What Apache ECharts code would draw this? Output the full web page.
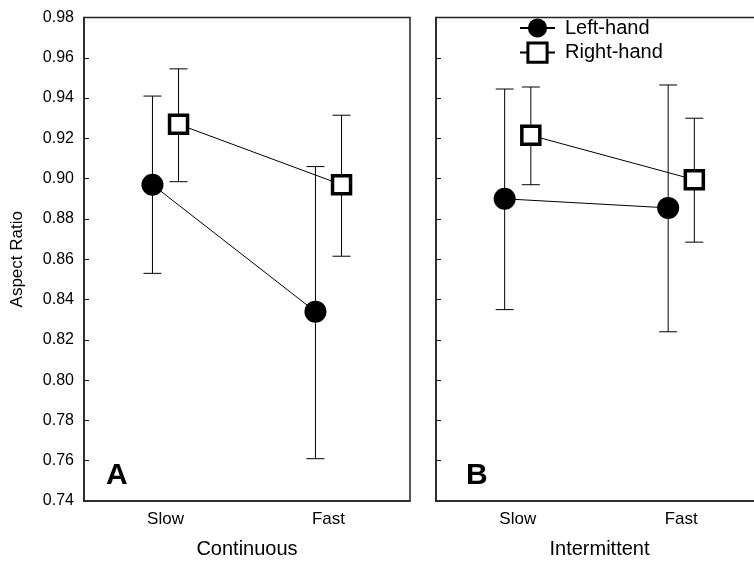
<!DOCTYPE html>
<html>
<head>
<meta charset="utf-8">
<script src="https://cdn.jsdelivr.net/npm/echarts@6/dist/echarts.min.js"></script>
<style>
  html, body { margin: 0; padding: 0; background: #fff; overflow: hidden; width: 754px; height: 564px; }
  #chart { width: 770px; height: 564px; }
</style>
</head>
<body>
<div id="chart"></div>
<script>
// ---- data ----
const categories = ['Slow', 'Fast'];
const panelNames = ['Continuous', 'Intermittent'];
const panelLetters = ['A', 'B'];
const seriesNames = ['Left-hand', 'Right-hand'];
const yTicks = [0.74, 0.76, 0.78, 0.80, 0.82, 0.84, 0.86, 0.88, 0.90, 0.92, 0.94, 0.96, 0.98];

// Continuous
const leftContMean = [0.897, 0.834];
const leftContLow  = [0.853, 0.761];
const leftContHigh = [0.941, 0.906];
const rightContMean = [0.927, 0.897];
const rightContLow  = [0.8985, 0.8615];
const rightContHigh = [0.9545, 0.9315];
// Intermittent
const leftIntMean = [0.890, 0.8855];
const leftIntLow  = [0.835, 0.824];
const leftIntHigh = [0.9445, 0.9465];
const rightIntMean = [0.9215, 0.8995];
const rightIntLow  = [0.897, 0.8685];
const rightIntHigh = [0.9455, 0.930];

// ---- styling / layout ----
const FONT = "'Liberation Sans', Arial, sans-serif";
const AX = '#222';
const OFFSET = 0.08; // horizontal dodge in category units
const grids = [
  { left: 84, top: 17.5, width: 326, height: 489.5 },
  { left: 436, top: 17.5, width: 327, height: 489.5 }
];

const chart = echarts.init(document.getElementById('chart'));

function pts(mean, dodge) {
  return mean.map((v, i) => [i + dodge, v]);
}
function errs(lo, hi, dodge) {
  return lo.map((v, i) => [i + dodge, v, hi[i]]);
}
function errRender(params, api) {
  const x = api.value(0), lo = api.value(1), hi = api.value(2);
  const a = api.coord([x, lo]);
  const b = api.coord([x, hi]);
  const hw = 9;
  const st = { stroke: '#000', lineWidth: 1 };
  return {
    type: 'group',
    children: [
      { type: 'line', shape: { x1: a[0], y1: a[1], x2: b[0], y2: b[1] }, style: st },
      { type: 'line', shape: { x1: a[0] - hw, y1: a[1], x2: a[0] + hw, y2: a[1] }, style: st },
      { type: 'line', shape: { x1: b[0] - hw, y1: b[1], x2: b[0] + hw, y2: b[1] }, style: st }
    ]
  };
}

const panelData = [
  { lm: leftContMean, ll: leftContLow, lh: leftContHigh, rm: rightContMean, rl: rightContLow, rh: rightContHigh },
  { lm: leftIntMean, ll: leftIntLow, lh: leftIntHigh, rm: rightIntMean, rl: rightIntLow, rh: rightIntHigh }
];

const xAxes = [], yAxes = [], series = [];
panelData.forEach((p, k) => {
  xAxes.push({
    type: 'category', gridIndex: k, data: categories, boundaryGap: true,
    axisLine: { onZero: false, lineStyle: { color: AX, width: 1.5 } },
    axisTick: { inside: true, length: 5, alignWithLabel: true, lineStyle: { color: AX, width: 1 } },
    axisLabel: { color: '#000', fontSize: 17, fontFamily: FONT, margin: 10 },
    name: panelNames[k], nameLocation: 'middle', nameGap: 38,
    nameTextStyle: { color: '#000', fontSize: 20, fontFamily: FONT }
  });
  yAxes.push({
    type: 'value', gridIndex: k, min: 0.74, max: 0.98, interval: 0.02,
    axisLine: { show: true, onZero: false, lineStyle: { color: AX, width: 1.5 } },
    axisTick: { show: true, inside: true, length: 5, lineStyle: { color: AX, width: 1 } },
    splitLine: { show: false },
    axisLabel: {
      show: k === 0, color: '#000', fontSize: 16, fontFamily: FONT, margin: 10,
      formatter: v => v.toFixed(2)
    },
    name: k === 0 ? 'Aspect Ratio' : '', nameLocation: 'middle', nameGap: 58,
    nameTextStyle: { color: '#000', fontSize: 17, fontFamily: FONT }
  });
});
// hidden value axes for dodged positions
panelData.forEach((p, k) => {
  xAxes.push({ type: 'value', gridIndex: k, min: -0.5, max: 1.5, show: false, axisLine: { onZero: false } });
});

panelData.forEach((p, k) => {
  const xi = 2 + k;
  series.push({
    type: 'custom', xAxisIndex: xi, yAxisIndex: k, renderItem: errRender,
    encode: { x: 0, y: [1, 2] }, data: errs(p.ll, p.lh, -OFFSET), z: 1, silent: true
  });
  series.push({
    type: 'custom', xAxisIndex: xi, yAxisIndex: k, renderItem: errRender,
    encode: { x: 0, y: [1, 2] }, data: errs(p.rl, p.rh, OFFSET), z: 1, silent: true
  });
  series.push({
    name: seriesNames[0], type: 'line', xAxisIndex: xi, yAxisIndex: k,
    data: pts(p.lm, -OFFSET), symbol: 'circle', symbolSize: 22,
    itemStyle: { color: '#000' }, lineStyle: { color: '#000', width: 1 },
    z: 3, animation: false
  });
  series.push({
    name: seriesNames[1], type: 'line', xAxisIndex: xi, yAxisIndex: k,
    data: pts(p.rm, OFFSET), symbol: 'rect', symbolSize: 18,
    itemStyle: { color: '#fff', borderColor: '#000', borderWidth: 3.5 },
    lineStyle: { color: '#000', width: 1 },
    z: 3, animation: false
  });
});

const option = {
  backgroundColor: '#fff',
  animation: false,
  grid: grids.map(g => Object.assign({ show: true, borderColor: AX, borderWidth: 1.5, backgroundColor: 'transparent' }, g)),
  xAxis: xAxes,
  yAxis: yAxes,
  legend: {
    data: seriesNames, orient: 'vertical', left: 514, top: 13,
    itemWidth: 35, itemHeight: 24, itemGap: 3.5,
    itemStyle: { borderWidth: 3 },
    textStyle: { color: '#000', fontSize: 20, fontFamily: FONT, padding: [0, 0, 0, 5] }
  },
  graphic: panelLetters.map((t, k) => ({
    type: 'text',
    left: k === 0 ? 106 : 466, top: 461,
    style: { text: t, fontSize: 30, fontWeight: 'bold', fontFamily: FONT, fill: '#000' }
  })),
  series: series
};
chart.setOption(option);
</script>
</body>
</html>
